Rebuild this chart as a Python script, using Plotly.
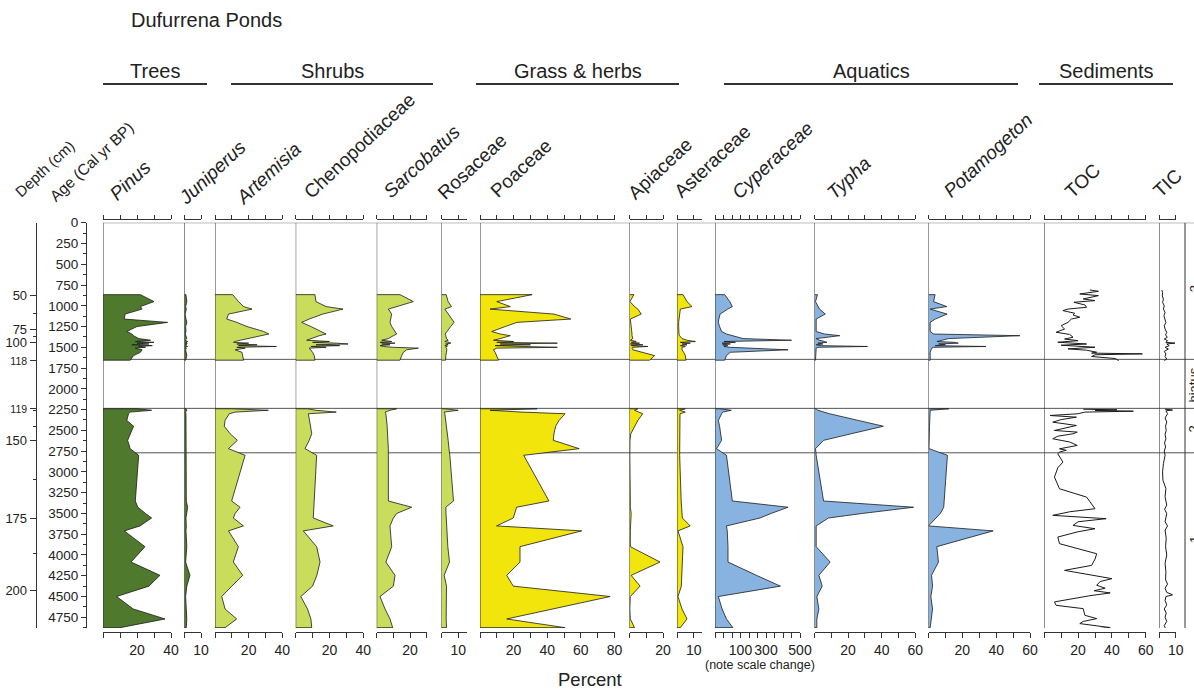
import numpy as np
import plotly.graph_objects as go

W, H = 1194, 689
FONT = "Arial, Liberation Sans, sans-serif"
INK = "#222222"

# ---------------- pollen samples (cal yr BP) ----------------
upper_age = [866, 950, 1010, 1040, 1100, 1160, 1200, 1250, 1310, 1340, 1360, 1395, 1415,
             1430, 1440, 1450, 1460, 1470, 1480, 1490, 1500, 1510, 1530, 1560, 1600, 1655]
lower_age = [2240, 2258, 2280, 2300, 2380, 2450, 2540, 2620, 2720, 2800, 3350, 3425,
             3500, 3555, 3650, 3710, 3900, 4085, 4245, 4375, 4500, 4650, 4770, 4875]

pinus_upper = [22, 30, 22, 23, 13, 12.5, 38, 20, 14, 17, 18, 21, 28, 19, 30, 20, 27, 17, 29, 21, 25, 19, 23, 22, 18, 16]
pinus_lower = [20, 28.6, 16, 15, 14, 18, 16, 14.5, 16, 21, 19, 20.5, 25, 28.6, 21.8, 12.5, 24.7, 16.5, 33.5, 27, 8, 17.8, 36.5, 10]

juniperus_upper = [1, 1.5, 0.8, 1.2, 0.5, 1, 1.5, 0.8, 1, 0.6, 1, 1.5, 0.5, 2, 0.8, 1.8, 0.6, 1.5, 0.8, 2, 0.6, 1.2, 0.8, 1, 1.5, 0.8]
juniperus_lower = [1, 1.5, 0.8, 1, 1, 0.8, 1, 1, 0.8, 1, 1.2, 2, 1.5, 1, 1.2, 1, 1.5, 0.8, 3.4, 1.5, 0.8, 1.2, 1.5, 1.2]

artemisia_upper = [10.5, 14, 17, 22, 8, 7, 13, 19, 29, 32, 27, 19, 15, 12, 11, 20, 13, 25, 14, 36.5, 13, 18, 12, 16, 16.5, 17]
artemisia_lower = [10, 31.7, 12, 8.5, 6, 5.5, 9, 13.3, 8, 17.9, 9.9, 14.9, 12, 10.9, 16.9, 8, 13.9, 10.9, 16.5, 10, 4, 6, 12.9, 6]

cheno_upper = [11.4, 12, 18, 28, 16, 8, 3.5, 9, 15, 18, 14, 9, 6.5, 20, 10, 24, 31, 12, 26, 9, 18, 8, 9, 10, 11, 11.4]
cheno_lower = [7, 12, 24, 7.5, 8.2, 8.8, 9.5, 8, 5.5, 12.4, 11, 10.8, 10.6, 10.4, 22.2, 4.5, 12.4, 14.4, 12.5, 10, 3, 7, 9, 9.5]

sarcobatus_upper = [14, 22, 12, 7, 9, 8.5, 8, 9, 11, 12, 10, 7, 3, 9, 2, 11, 3, 8, 2, 4, 10, 25, 18, 16, 15, 14]
sarcobatus_lower = [12, 8, 5, 5.5, 6, 6.3, 6.5, 6.8, 7, 7, 7, 21, 12, 10, 8, 8.2, 9, 5.5, 11, 10, 2, 5, 8, 9.6]

rosaceae_upper = [2.8, 4, 6, 2, 4, 6.5, 7.6, 5.5, 3, 2.2, 2.6, 3, 4, 2, 4.5, 5.6, 2.5, 4, 2, 3.5, 2.5, 3, 3.2, 2.8, 2.6, 2.4]
rosaceae_lower = [1.5, 10, 1.5, 2, 2.6, 3, 3.5, 4, 4.5, 5, 7.2, 2.6, 2.7, 2.8, 2.9, 3, 3.8, 4.8, 1.6, 3, 2.8, 2.6, 2.8, 3]

poaceae_upper = [31, 10, 18, 6, 44, 54, 22, 15, 7, 12, 18, 12, 8, 20, 10, 46, 12, 30, 9, 25, 46, 10, 8, 9, 10, 11]
poaceae_lower = [34, 6, 25, 50.6, 47, 45, 44, 43.6, 59, 26, 41, 21.8, 20.5, 19.8, 9.9, 60.5, 23.8, 23.8, 15.9, 19.8, 77.4, 43, 15.9, 50.6]

apiaceae_upper = [2.6, 0.3, 3, 5, 7, 0.5, 0.8, 1, 1.2, 1.5, 1.5, 2, 0.5, 4, 1, 6, 0.5, 8, 1, 11, 2, 1.5, 2, 8, 15, 12]
apiaceae_lower = [5, 3, 6, 7.9, 5, 3, 0.8, 0.3, 0.2, 0.2, 0.5, 0.5, 1, 0.8, 0.5, 0.5, 0.5, 18.2, 1, 6.3, 0.5, 0.2, 0.5, 3]

asteraceae_upper = [3.6, 6, 9, 2, 1.5, 1, 1, 1, 1, 1.2, 1.5, 3, 6, 11, 2, 8, 3, 6, 2, 5, 3, 3, 3, 4, 5, 5.4]
asteraceae_lower = [5, 1.5, 5, 1.8, 1.7, 1.6, 1.6, 1.6, 1.6, 1.6, 2.5, 2.8, 3, 3.2, 7.9, 0.6, 3.6, 3.2, 3, 2.6, 0.6, 3, 6, 2]

cyperaceae_upper = [38, 58, 68, 50, 20, 15, 13, 18, 26, 45, 70, 120, 450, 35, 80, 28, 60, 30, 50, 35, 60, 150, 430, 60, 45, 38]
cyperaceae_lower = [19, 64, 30, 26, 13, 18, 22, 26, 6, 45, 68, 430, 330, 253, 45, 48, 51, 51, 225, 385, 13, 28, 45, 70]

typha_upper = [1.8, 0.6, 2, 3, 6.4, 1, 1, 1, 1, 6, 15, 1, 3, 6, 7.4, 2, 5, 1, 4, 31.5, 2, 1, 1, 0.8, 0.6, 0.6]
typha_lower = [1, 2, 5.4, 9, 26, 41, 22, 5.4, 0.6, 1, 5.4, 59, 28.5, 8.3, 1, 1, 1, 9.3, 2.6, 4.6, 1.4, 2.6, 1.4, 1.4]

potamogeton_upper = [3.9, 3, 10.8, 1, 11, 4, 1, 1, 1, 3, 54, 12, 8.8, 5, 15, 17.6, 6, 10, 4, 34, 3, 2, 1.5, 1, 1, 1]
potamogeton_lower = [12, 1, 1, 1, 0.8, 0.6, 0.5, 0.5, 0.3, 11.2, 9.5, 9, 7, 4.3, 0, 38.2, 4.9, 5.9, 1.8, 2.4, 1.4, 2.4, 1.5, 1]

# ---------------- sediment geochemistry ----------------
toc_upper_age = [810, 826, 858, 878, 918, 938, 958, 990, 1018, 1040, 1058, 1090, 1110, 1138, 1160, 1200, 1240, 1280,
                 1319, 1345, 1379, 1400, 1420, 1439, 1460, 1475, 1499, 1519, 1535, 1559, 1570, 1579, 1590, 1611, 1635, 1660]
toc_upper = [27, 32, 21, 32, 23, 30, 17.5, 24, 25, 14, 11, 18, 17, 21, 16, 14, 10, 12,
             7, 15, 17, 12, 20, 8, 25, 10, 30, 14, 25, 31, 28, 58, 30, 28, 42, 44]
toc_lower_age = [2245, 2253, 2260, 2269, 2280, 2300, 2321, 2341, 2370, 2401, 2441, 2470, 2501, 2521, 2541, 2570,
                 2601, 2640, 2681, 2722, 2740, 2760, 2782, 2882, 2950, 3062, 3203, 3303, 3360, 3443, 3480, 3523,
                 3563, 3600, 3644, 3684, 3720, 3784, 3864, 3985, 4050, 4125, 4185, 4285, 4320, 4365, 4400, 4430,
                 4457, 4490, 4565, 4606, 4646, 4726, 4766, 4800, 4826, 4874, 4898]
toc_lower = [23, 43, 30, 52.7, 24, 20, 3.4, 19, 10, 5, 19, 12, 6, 19.5, 17, 8,
             5, 15, 19.5, 9, 13, 9, 8, 11, 8, 6, 9, 25, 27, 30, 15, 5,
             36.6, 20, 17, 30, 20, 8, 9, 31, 30, 28, 12, 40, 33, 31, 36, 29.5,
             39, 27, 6, 7, 23, 24, 31, 23, 21, 39, 25]

tic_upper_age = [810, 840, 880, 920, 960, 1000, 1040, 1080, 1120, 1160, 1200, 1240, 1280, 1320, 1350,
                 1380, 1400, 1420, 1440, 1450, 1460, 1480, 1500, 1520, 1550, 1580, 1610, 1640, 1660]
tic_upper = [1.5, 2, 1.8, 2.5, 2, 3, 2.5, 3.5, 2.8, 3.2, 4, 3, 3.5, 4.5, 3.8,
             4.8, 3, 5, 4, 9.5, 4.5, 6, 3.5, 5.5, 3, 4, 3.5, 4.5, 3]
tic_lower_age = [2245, 2255, 2265, 2300, 2350, 2400, 2450, 2500, 2550, 2600, 2650, 2700, 2750, 2800, 2900,
                 3000, 3100, 3200, 3300, 3400, 3450, 3500, 3600, 3650, 3700, 3800, 3900, 4000, 4100, 4200,
                 4300, 4350, 4400, 4450, 4480, 4500, 4550, 4600, 4650, 4700, 4750, 4800, 4850, 4898]
tic_lower = [3.5, 8, 4, 5, 3.5, 4.5, 3.8, 4.2, 3.5, 4, 3.2, 3.8, 3, 3.5, 2.5,
             2, 2.2, 4, 3.5, 4.5, 3.2, 4.5, 3.5, 5, 3.5, 4.2, 3.8, 4.5, 3.5, 4,
             3.8, 5, 3.5, 4.5, 8, 4, 3.5, 4.5, 3, 4.2, 3.5, 4.5, 3, 4]

# ---------------- axes: age / depth ----------------
age_ticks = list(range(0, 5000, 250))
depth_ticks = [50, 75, 100, 118, 119, 150, 175, 200]
depth_tick_age = [879, 1280, 1445, 1653, 2231, 2624, 3555, 4430]
depth_minor_age = [1087, 1372, 2263, 2456, 3097, 3988]
hiatus_ages = [1645, 2235, 2770]
AGE_MAX = 4879

# zone labels along the right edge (label, age at centre)
zone_labels = ["3", "hiatus", "2", "1"]
zone_label_age = [800, 1960, 2490, 3820]

# Cyperaceae uses a broken scale (value -> axis units)
cyper_break_v = [0, 100, 300, 500]
cyper_break_u = [0, 25.5, 51, 85]

TREE, SHRUB, HERB, AQUA = "#4f7a2e", "#c9dc5c", "#f1e50c", "#88b3e0"


def pxx(x):
    return x / W


def pxy(y):
    return 1 - y / H


ident = lambda v: np.asarray(v, dtype=float)
cyper_scale = lambda v: np.interp(v, cyper_break_v, cyper_break_u)

panels = [
    dict(name="Pinus", it=True, up=pinus_upper, lo=pinus_lower, c=TREE, x0=103, x1=171, vmax=40, step=10, lab=[20, 40], pos=(130, 180)),
    dict(name="Juniperus", it=True, up=juniperus_upper, lo=juniperus_lower, c=TREE, x0=184.3, x1=201, vmax=10, step=10, lab=[10], pos=(212, 172)),
    dict(name="Artemisia", it=True, up=artemisia_upper, lo=artemisia_lower, c=SHRUB, x0=215, x1=282.3, vmax=40, step=10, lab=[20, 40], pos=(268, 173)),
    dict(name="Chenopodiaceae", it=False, up=cheno_upper, lo=cheno_lower, c=SHRUB, x0=295.7, x1=363.3, vmax=40, step=10, lab=[20, 40], pos=(360, 146)),
    dict(name="Sarcobatus", it=True, up=sarcobatus_upper, lo=sarcobatus_lower, c=SHRUB, x0=376.7, x1=426.7, vmax=30, step=10, lab=[20], pos=(422, 162)),
    dict(name="Rosaceae", it=False, up=rosaceae_upper, lo=rosaceae_lower, c=SHRUB, x0=441.5, x1=466.5, vmax=15, step=10, lab=[10], pos=(472, 166)),
    dict(name="Poaceae", it=False, up=poaceae_upper, lo=poaceae_lower, c=HERB, x0=480, x1=614.5, vmax=80, step=10, lab=[20, 40, 60, 80], pos=(521, 169)),
    dict(name="Apiaceae", it=False, up=apiaceae_upper, lo=apiaceae_lower, c=HERB, x0=629.5, x1=663, vmax=20, step=10, lab=[20], pos=(660, 168)),
    dict(name="Asteraceae", it=False, up=asteraceae_upper, lo=asteraceae_lower, c=HERB, x0=677, x1=702, vmax=15, step=10, lab=[10], pos=(712, 161)),
    dict(name="Cyperaceae", it=True, up=cyperaceae_upper, lo=cyperaceae_lower, c=AQUA, x0=715, x1=800, vmax=85, step=8.5, lab=None, pos=(772, 160)),
    dict(name="Typha", it=True, up=typha_upper, lo=typha_lower, c=AQUA, x0=814.5, x1=915.3, vmax=60, step=10, lab=[20, 40, 60], pos=(848, 178)),
    dict(name="Potamogeton", it=True, up=potamogeton_upper, lo=potamogeton_lower, c=AQUA, x0=928.5, x1=1030, vmax=60, step=10, lab=[20, 40, 60], pos=(988, 156)),
    dict(name="TOC", it=False, line=((toc_upper_age, toc_upper), (toc_lower_age, toc_lower)), x0=1044.3, x1=1145.7, vmax=60, step=10, lab=[20, 40, 60], pos=(1083, 181)),
    dict(name="TIC", it=False, line=((tic_upper_age, tic_upper), (tic_lower_age, tic_lower)), x0=1159.3, x1=1175.8, vmax=10, step=10, lab=[10], pos=(1167, 183)),
]

fig = go.Figure()
layout_axes = {}
shapes = []
annotations = []
n = len(panels)
axis_font = dict(family=FONT, size=14, color=INK)

for i, p in enumerate(panels, start=1):
    xname = "x" if i == 1 else f"x{i}"
    xkey = "xaxis" if i == 1 else f"xaxis{i}"
    tname = f"x{i + n}"
    tkey = f"xaxis{i + n}"
    scale = cyper_scale if p["name"] == "Cyperaceae" else ident

    if "line" in p:
        for ages, vals in p["line"]:
            fig.add_trace(go.Scatter(x=list(vals), y=list(ages), xaxis=xname, yaxis="y", mode="lines",
                                     line=dict(color="#1a1a1a", width=1), hoverinfo="skip"))
    else:
        for ages, vals in ((upper_age, p["up"]), (lower_age, p["lo"])):
            xs = [0.0] + list(scale(vals)) + [0.0]
            ys = [ages[0]] + list(ages) + [ages[-1]]
            fig.add_trace(go.Scatter(x=xs, y=ys, xaxis=xname, yaxis="y", mode="lines", fill="toself",
                                     fillcolor=p["c"], line=dict(color="#1a1a1a", width=0.8), hoverinfo="skip"))
    fig.add_trace(go.Scatter(x=[None], y=[None], xaxis=tname, yaxis="y", hoverinfo="skip"))

    tickvals = [round(v, 3) for v in np.arange(0, p["vmax"] + 1e-6, p["step"])]
    if p["name"] == "Cyperaceae":
        ticktext = ["100" if abs(v - 25.5) < 0.1 else "300" if abs(v - 51) < 0.1 else "500" if abs(v - 85) < 0.1 else ""
                    for v in tickvals]
    else:
        ticktext = [str(int(v)) if int(v) in p["lab"] else "" for v in tickvals]

    common = dict(domain=[pxx(p["x0"]), pxx(p["x1"])], range=[0, p["vmax"]], showgrid=False, zeroline=False,
                  showline=True, linecolor="#333333", linewidth=1, ticks="outside", tickcolor="#333333",
                  tickwidth=1, tickmode="array", tickvals=tickvals, fixedrange=True, tickangle=0,
                  automargin=False)
    layout_axes[xkey] = dict(common, anchor="free", position=pxy(632), ticklen=5, ticktext=ticktext,
                             tickfont=axis_font)
    layout_axes[tkey] = dict(common, overlaying=xname, side="top", anchor="free", position=pxy(219),
                             ticklen=4, showticklabels=False)

    # left edge of each panel
    shapes.append(dict(type="line", xref=xname, yref="y", x0=0, x1=0, y0=0, y1=AGE_MAX,
                       line=dict(color="#333333", width=1), layer="above"))

    txt = f"<i>{p['name']}</i>" if p["it"] else p["name"]
    annotations.append(dict(text=txt, x=pxx(p["pos"][0]), y=pxy(p["pos"][1]), xref="paper", yref="paper",
                            showarrow=False, textangle=-43, xanchor="center", yanchor="middle",
                            font=dict(family=FONT, size=19, color=INK)))

# dummy trace so the depth axis is drawn
fig.add_trace(go.Scatter(x=[None], y=[None], xaxis="x", yaxis="y2", hoverinfo="skip"))

ydom = [pxy(628), pxy(222.7)]
layout_axes["yaxis"] = dict(domain=ydom, range=[AGE_MAX, 0], anchor="free", position=pxx(86), side="left",
                            showgrid=False, zeroline=False, showline=True, linecolor="#333333", linewidth=1,
                            ticks="outside", ticklen=5, tickcolor="#333333", tickmode="array",
                            tickvals=age_ticks, ticktext=[str(a) for a in age_ticks],
                            tickfont=dict(family=FONT, size=13.5, color=INK), automargin=False,
                            minor=dict(dtick=125, tick0=0, ticks="outside", ticklen=3, tickcolor="#333333"),
                            fixedrange=True)
depth_text = [f'<span style="font-size:10.5px">{d}</span>' if d in (118, 119) else str(d) for d in depth_ticks]
layout_axes["yaxis2"] = dict(overlaying="y", range=[AGE_MAX, 0], anchor="free", position=pxx(35.7), side="left",
                             showgrid=False, zeroline=False, showline=True, linecolor="#333333", linewidth=1,
                             ticks="outside", ticklen=6, tickcolor="#333333", tickmode="array",
                             tickvals=depth_tick_age, ticktext=depth_text, automargin=False,
                             tickfont=dict(family=FONT, size=13, color=INK),
                             minor=dict(tickvals=depth_minor_age, ticks="outside", ticklen=3, tickcolor="#333333"),
                             fixedrange=True)

# frame lines: top of record, hiatus boundaries, zone column
for a in [0] + hiatus_ages:
    shapes.append(dict(type="line", xref="paper", yref="y", x0=pxx(103), x1=1.0, y0=a, y1=a,
                       line=dict(color="#555555", width=1), layer="below"))
shapes.append(dict(type="line", xref="paper", yref="y", x0=pxx(1185), x1=pxx(1185), y0=0, y1=AGE_MAX,
                   line=dict(color="#333333", width=1)))

# group headings
groups = [("Trees", 103, 207), ("Shrubs", 231, 433), ("Grass & herbs", 476, 679),
          ("Aquatics", 724, 1018), ("Sediments", 1039, 1173)]
for label, gx0, gx1 in groups:
    shapes.append(dict(type="line", xref="paper", yref="paper", x0=pxx(gx0), x1=pxx(gx1), y0=pxy(84), y1=pxy(84),
                       line=dict(color="#333333", width=2)))
    annotations.append(dict(text=label, x=pxx((gx0 + gx1) / 2), y=pxy(71), xref="paper", yref="paper",
                            showarrow=False, xanchor="center", yanchor="middle",
                            font=dict(family=FONT, size=20, color=INK)))

annotations += [
    dict(text="Dufurrena Ponds", x=pxx(129), y=pxy(20), xanchor="left", yanchor="middle",
         font=dict(family=FONT, size=20, color=INK)),
    dict(text="Depth (cm)", x=pxx(45), y=pxy(169), textangle=-43, xanchor="center", yanchor="middle",
         font=dict(family=FONT, size=15, color=INK)),
    dict(text="Age (Cal yr BP)", x=pxx(92), y=pxy(162), textangle=-43, xanchor="center", yanchor="middle",
         font=dict(family=FONT, size=15.5, color=INK)),
    dict(text="Percent", x=pxx(590), y=pxy(679), xanchor="center", yanchor="middle",
         font=dict(family=FONT, size=18.5, color=INK)),
    dict(text="(note scale change)", x=pxx(760), y=pxy(665), xanchor="center", yanchor="middle",
         font=dict(family=FONT, size=12.5, color=INK)),
]
# zone labels sit in the narrow column right of the last panel
for label, za in zip(zone_labels, zone_label_age):
    annotations.append(dict(text=label, x=pxx(1194), y=za, yref="y", textangle=-90,
                            xanchor="center", yanchor="middle",
                            font=dict(family=FONT, size=13, color=INK)))
for a in annotations:
    a.setdefault("xref", "paper")
    a.setdefault("yref", "paper")
    a.setdefault("showarrow", False)

fig.update_layout(width=W, height=H, autosize=False,
                  margin=dict(l=0, r=0, t=0, b=0, pad=0, autoexpand=False),
                  paper_bgcolor="white", plot_bgcolor="rgba(0,0,0,0)", showlegend=False,
                  shapes=shapes, annotations=annotations, hovermode=False, **layout_axes)

fig.write_html("out.html")
